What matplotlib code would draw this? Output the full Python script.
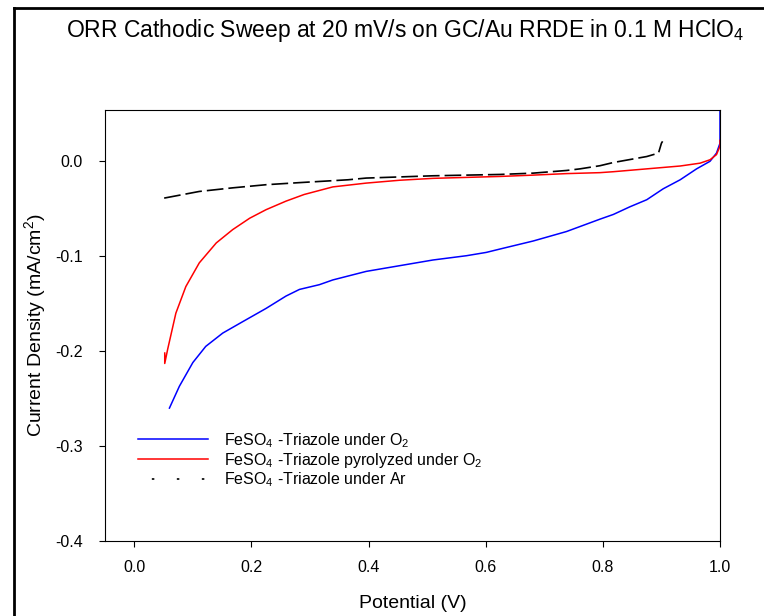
import matplotlib
matplotlib.use("Agg")
from matplotlib import pyplot as plt
from matplotlib.lines import Line2D

plt.rcParams['font.family'] = ['Liberation Sans', 'DejaVu Sans']
plt.rcParams['mathtext.fontset'] = 'custom'
plt.rcParams['mathtext.rm'] = 'Liberation Sans'
plt.rcParams['mathtext.default'] = 'regular'
plt.rcParams['axes.unicode_minus'] = False

# FeSO4-Triazole under O2
o2_potential = [0.060, 0.077, 0.100, 0.122, 0.151, 0.185, 0.225, 0.259, 0.282, 0.316,
                0.339, 0.396, 0.453, 0.510, 0.567, 0.601, 0.624, 0.681, 0.738, 0.795,
                0.818, 0.846, 0.875, 0.903, 0.932, 0.960, 0.983, 0.994, 1.000, 1.000]
o2_current = [-0.260, -0.237, -0.212, -0.195, -0.181, -0.169, -0.155, -0.142, -0.135, -0.130,
              -0.125, -0.116, -0.110, -0.104, -0.0995, -0.096, -0.0925, -0.084, -0.074, -0.061,
              -0.056, -0.048, -0.0405, -0.029, -0.0195, -0.008, 0.000, 0.0086, 0.019, 0.060]

# FeSO4-Triazole pyrolyzed under O2
pyro_potential = [0.052, 0.052, 0.057, 0.071, 0.088, 0.111, 0.140, 0.168, 0.197, 0.225,
                  0.259, 0.290, 0.339, 0.396, 0.453, 0.510, 0.567, 0.624, 0.681, 0.738,
                  0.795, 0.818, 0.875, 0.932, 0.966, 0.983, 0.994, 1.000, 1.000]
pyro_current = [-0.202, -0.213, -0.198, -0.160, -0.132, -0.107, -0.086, -0.072, -0.060, -0.051,
                -0.042, -0.035, -0.027, -0.023, -0.020, -0.018, -0.017, -0.016, -0.0146, -0.013,
                -0.012, -0.011, -0.008, -0.005, -0.002, 0.0016, 0.007, 0.016, 0.022]

# FeSO4-Triazole under Ar
ar_potential = [0.051, 0.111, 0.168, 0.225, 0.282, 0.365, 0.396, 0.510, 0.624, 0.681,
                0.738, 0.761, 0.795, 0.818, 0.875, 0.895, 0.900, 0.902]
ar_current = [-0.0388, -0.0318, -0.028, -0.0247, -0.0225, -0.0195, -0.0177, -0.0153, -0.0139, -0.0125,
              -0.0097, -0.008, -0.0047, -0.0013, 0.005, 0.0086, 0.019, 0.021]

x_ticks = [0.0, 0.2, 0.4, 0.6, 0.8, 1.0]
y_ticks = [0.0, -0.1, -0.2, -0.3, -0.4]

fig = plt.figure(figsize=(7.64, 6.16), dpi=100)
ax = fig.add_axes([105 / 764, 1 - 541 / 616, 615 / 764, 431 / 616])

blue, = ax.plot(o2_potential, o2_current, color='#0000ff', lw=1.1)
red, = ax.plot(pyro_potential, pyro_current, color='#ff0000', lw=1.1)
ax.plot(ar_potential, ar_current, color='black', lw=1.2, ls=(0, (10, 3)))

ax.set_xlim(-0.05, 1.0)
ax.set_ylim(-0.4, 0.054)
ax.set_xticks(x_ticks)
ax.set_yticks(y_ticks)
ax.set_xticklabels([f'{v:.1f}' for v in x_ticks])
ax.set_yticklabels([f'{v:.1f}' for v in y_ticks])
ax.tick_params(direction='out', length=4, width=0.8, labelsize=11.5)
ax.tick_params(axis='y', pad=12)
ax.tick_params(axis='x', pad=10)
for sp in ax.spines.values():
    sp.set_linewidth(0.8)

ax.set_xlabel('Potential (V)', fontsize=14, labelpad=14)
ax.set_ylabel('Current Density (mA/cm$^2$)', fontsize=14, labelpad=5)

ar_handle = Line2D([], [], color='black', lw=1.2, ls=(6.7, (1.5, 13.5)))
ax.legend([blue, red, ar_handle],
          ['FeSO$_4$ -Triazole under O$_2$',
           'FeSO$_4$ -Triazole pyrolyzed under O$_2$',
           'FeSO$_4$ -Triazole under Ar'],
          loc='upper left', bbox_to_anchor=(0.03, 0.289), frameon=False,
          fontsize=11.5, handlelength=4.4, handletextpad=1.0, labelspacing=0.07)

fig.text(405 / 764, 1 - 30 / 616, 'ORR Cathodic Sweep at 20 mV/s on GC/Au RRDE in 0.1 M HClO$_4$',
         ha='center', va='center', fontsize=16.5)

# outer frame (left and top edges)
fig.add_artist(Line2D([14 / 764, 14 / 764], [0, 1 - 8 / 616], transform=fig.transFigure,
                      color='black', lw=2))
fig.add_artist(Line2D([14 / 764, 1], [1 - 8 / 616, 1 - 8 / 616], transform=fig.transFigure,
                      color='black', lw=2))

fig.savefig('out.png', dpi=100)
